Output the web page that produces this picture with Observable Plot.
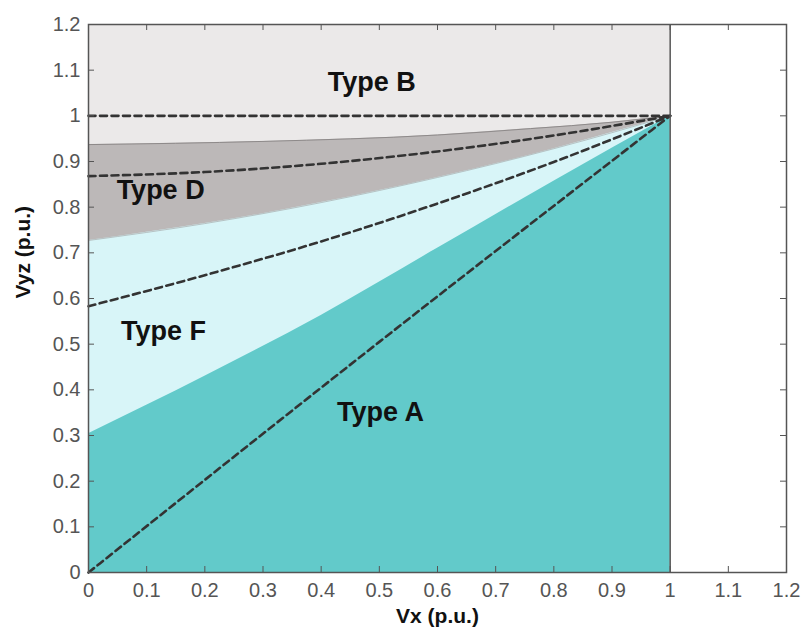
<!DOCTYPE html>
<html><head><meta charset="utf-8">
<script src="https://cdn.jsdelivr.net/npm/d3@7"></script>
<script src="https://cdn.jsdelivr.net/npm/@observablehq/plot@0.6"></script>
<style>
body{margin:0;background:#fff;}
#chart{width:802px;height:634px;}
</style>
</head><body><div id="chart"></div>
<script>
// Axis ticks and labels
const ticks = [0, 0.1, 0.2, 0.3, 0.4, 0.5, 0.6, 0.7, 0.8, 0.9, 1, 1.1, 1.2];
const tickLabels = ["0","0.1","0.2","0.3","0.4","0.5","0.6","0.7","0.8","0.9","1","1.1","1.2"];
const innerTicks = [0.1, 0.2, 0.3, 0.4, 0.5, 0.6, 0.7, 0.8, 0.9, 1, 1.1];

// Region boundaries (upper edge of each filled region)
const regionBx = [0, 1];
const regionBy = [1.2, 1.2];
const regionDx = [0, 0.3, 0.6, 0.76, 0.9, 1];
const regionDy = [0.937, 0.944, 0.958, 0.972, 0.986, 1];
const regionFx = [0, 0.2, 0.4, 0.6, 0.8, 1];
const regionFy = [0.727, 0.764, 0.810, 0.865, 0.928, 1];
const regionAx = [0, 0.2, 0.4, 0.6, 0.8, 1];
const regionAy = [0.304, 0.430, 0.563, 0.710, 0.857, 1];

// Dashed curves
const dash1x = [0, 1];
const dash1y = [1, 1];
const dash2x = [0, 0.2, 0.4, 0.6, 0.8, 1];
const dash2y = [0.868, 0.877, 0.895, 0.922, 0.957, 1];
const dash3x = [0, 0.2, 0.4, 0.6, 0.8, 1];
const dash3y = [0.583, 0.651, 0.725, 0.808, 0.899, 1];
const dash4x = [0, 0.5, 1];
const dash4y = [0, 0.505, 1];

// Region labels
const labelText = ["Type B", "Type D", "Type F", "Type A"];
const labelX = [0.487, 0.124, 0.129, 0.502];
const labelY = [1.074, 0.837, 0.529, 0.350];

const colors = {B: "#ebe9e9", D: "#bcb8b8", F: "#d8f5f8", A: "#62caca"};

const zip = (xs, ys) => xs.map((x, i) => ({x, y: ys[i]}));
const labels = labelText.map((t, i) => ({t, x: labelX[i], y: labelY[i]}));
const W = 802, H = 634, mL = 88, mR = 16, mT = 24, mB = 62;
const pw = W - mL - mR, ph = H - mT - mB, tl = 6;
const fmt = d => tickLabels[ticks.indexOf(d)];
const dashStyle = {x: "x", y: "y", stroke: "#333", strokeWidth: 2.6, strokeDasharray: "7,4.5", curve: "monotone-x"};

const chart = Plot.plot({
  width: W, height: H,
  marginLeft: mL, marginRight: mR, marginTop: mT, marginBottom: mB,
  x: {domain: [0, 1.2]},
  y: {domain: [0, 1.2]},
  style: {fontFamily: "'Liberation Sans', Arial, sans-serif", fontSize: "20px", background: "#fff"},
  marks: [
    Plot.areaY(zip(regionBx, regionBy), {x: "x", y: "y", fill: colors.B}),
    Plot.areaY(zip(regionDx, regionDy), {x: "x", y: "y", fill: colors.D, curve: "monotone-x"}),
    Plot.line(zip(regionDx, regionDy), {x: "x", y: "y", stroke: "#8e8a8a", strokeWidth: 1, curve: "monotone-x"}),
    Plot.areaY(zip(regionFx, regionFy), {x: "x", y: "y", fill: colors.F, curve: "monotone-x"}),
    Plot.line(zip(regionFx, regionFy), {x: "x", y: "y", stroke: "#9a9898", strokeWidth: 0.8, strokeOpacity: 0.7, curve: "monotone-x"}),
    Plot.areaY(zip(regionAx, regionAy), {x: "x", y: "y", fill: colors.A, curve: "monotone-x"}),
    Plot.line(zip(dash1x, dash1y), dashStyle),
    Plot.line(zip(dash2x, dash2y), dashStyle),
    Plot.line(zip(dash3x, dash3y), dashStyle),
    Plot.line(zip(dash4x, dash4y), dashStyle),
    Plot.ruleX([1], {stroke: "#555", strokeWidth: 1.5}),
    Plot.frame({stroke: "#555", strokeWidth: 1.5}),
    Plot.tickX(innerTicks, {x: d => d, stroke: "#555", insetTop: ph - tl}),
    Plot.tickX(innerTicks, {x: d => d, stroke: "#555", insetBottom: ph - tl}),
    Plot.tickY(innerTicks, {y: d => d, stroke: "#555", insetRight: pw - tl}),
    Plot.tickY(innerTicks, {y: d => d, stroke: "#555", insetLeft: pw - tl}),
    Plot.axisX(ticks, {tickSize: 0, tickPadding: 10, tickFormat: fmt, label: null, color: "#555", fontSize: 20}),
    Plot.axisY(ticks, {tickSize: 0, tickPadding: 8, tickFormat: fmt, label: null, color: "#555", fontSize: 20}),
    Plot.text(labels, {x: "x", y: "y", text: "t", fontSize: 27, fontWeight: "bold", fill: "#111", textAnchor: "middle"}),
    Plot.text(["Vx (p.u.)"], {text: d => d, frameAnchor: "bottom", dy: 50, fontSize: 21, fontWeight: "bold", fill: "#111"}),
    Plot.text(["Vyz (p.u.)"], {text: d => d, frameAnchor: "left", dx: -65, rotate: -90, fontSize: 21, fontWeight: "bold", fill: "#111"})
  ]
});
document.getElementById("chart").appendChild(chart);
</script>
</body></html>
